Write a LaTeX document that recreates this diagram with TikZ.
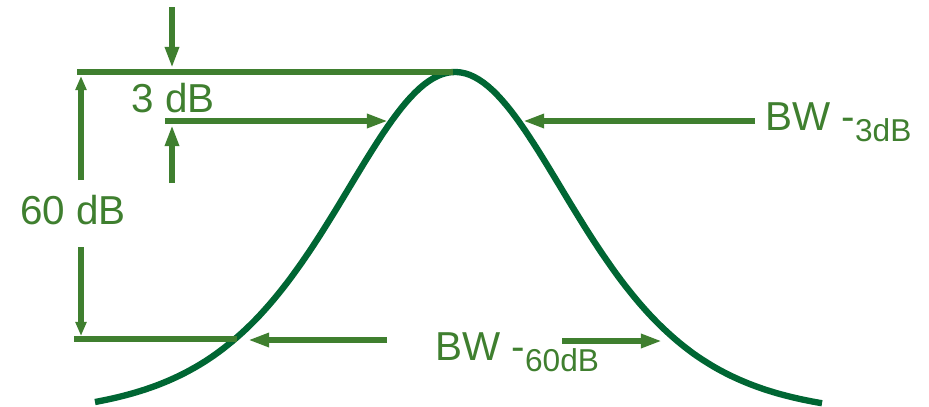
\documentclass[tikz,border=0pt]{standalone}
\usepackage{fontspec}
\setmainfont{Liberation Sans}
\usetikzlibrary{arrows.meta}

\definecolor{dimgreen}{RGB}{63,127,47}
\definecolor{curvegreen}{RGB}{0,102,51}

\tikzset{
    curveline/.style={curvegreen, line width=3.6pt, line join=round},
    dimline/.style={dimgreen, line width=3.4pt},
    dimarrow/.style={dimline, -{Triangle[length=12pt,width=7.5pt]}},
    smallarrow/.style={dimline, -{Triangle[length=8pt,width=6pt]}},
    dimlabel/.style={dimgreen, inner sep=0pt, anchor=base west, font=\fontsize{23}{26}\selectfont},
}

\newcommand{\bwsub}[1]{\raisebox{-6.5pt}{\fontsize{18}{19}\selectfont #1}}

\begin{document}
\begin{tikzpicture}[x=0.02cm, y=-0.02cm]
    % Define the frame
    \useasboundingbox (0,0) rectangle (929,406);
    % Define curve shape
    \def\centre{455}
    \def\depth{345}
    \def\spread{160}
    % Reference points
    \coordinate (topL) at (77,72);
    \coordinate (peak) at (453,72);
    \coordinate (midL) at (165,121);
    \coordinate (leftHalf) at (388,121);
    \coordinate (rightHalf) at (523,121);
    \coordinate (rightTail) at (755,121);
    \coordinate (downTop) at (172,7);
    \coordinate (downTip) at (172,68);
    \coordinate (upBot) at (172,183);
    \coordinate (upTip) at (172,125);
    \coordinate (sixUpBot) at (81,180);
    \coordinate (sixUpTip) at (81,76);
    \coordinate (sixDownTop) at (81,247);
    \coordinate (sixDownTip) at (81,336);
    \coordinate (botL) at (74,339);
    \coordinate (botR) at (237,339);
    \coordinate (leftTail) at (387,340);
    \coordinate (leftSixty) at (248,340);
    \coordinate (rightStart) at (562,341);
    \coordinate (rightSixty) at (662,341);
    % Draw the filter curve
    \draw[curveline] plot[domain=-360:367, samples=160]
        ({\centre+\x}, {72+\depth*(tanh(\x/\spread))^2});
    % Reference lines
    \draw[dimline] (topL) -- (peak);
    \draw[dimline] (botL) -- (botR);
    % 3 dB markers
    \draw[dimarrow] (midL) -- (leftHalf);
    \draw[dimarrow] (rightTail) -- (rightHalf);
    \draw[dimarrow] (downTop) -- (downTip);
    \draw[dimarrow] (upBot) -- (upTip);
    % 60 dB markers
    \draw[smallarrow] (sixUpBot) -- (sixUpTip);
    \draw[smallarrow] (sixDownTop) -- (sixDownTip);
    \draw[dimarrow] (leftTail) -- (leftSixty);
    \draw[dimarrow] (rightStart) -- (rightSixty);
    % Labels
    \node[dimlabel] (threedb) at (131,112) {3 dB};
    \node[dimlabel] (sixtydb) at (20,224) {60 dB};
    \node[dimlabel] (bwthree) at (765,130) {BW -\bwsub{3dB}};
    \node[dimlabel] (bwsixty) at (435,360) {BW -\bwsub{60dB}};
\end{tikzpicture}
\end{document}
